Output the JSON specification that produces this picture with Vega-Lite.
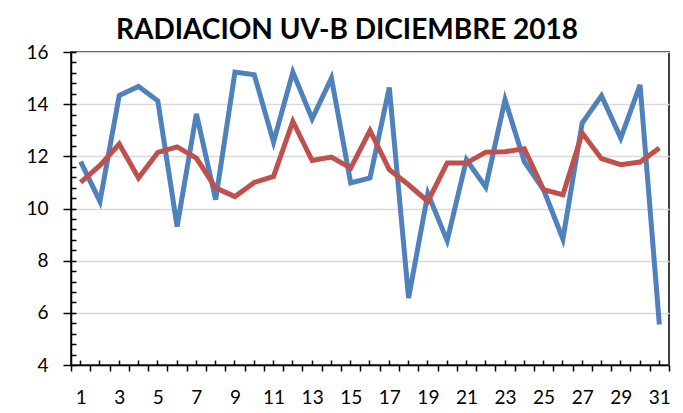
{
  "$schema": "https://vega.github.io/schema/vega-lite/v6.json",
  "autosize": "none",
  "width": 598,
  "height": 313,
  "padding": {"left": 71, "top": 52, "right": 14, "bottom": 48},
  "background": "white",
  "title": {"text": "RADIACION UV-B DICIEMBRE 2018", "font": "Lato", "fontSize": 28, "fontWeight": "bold", "color": "#000000", "dx": -23, "offset": -2},
  "config": {
    "view": {"stroke": "#000000", "strokeWidth": 1.5},
    "axis": {"labelFont": "Lato", "labelFontSize": 19, "labelColor": "#000000", "domainColor": "#000000", "tickColor": "#000000", "domainWidth": 1.5, "tickWidth": 1.5, "title": null}
  },
  "data": {"values": [
    {"d": 1, "a": 11.8, "b": 11.0},
    {"d": 2, "a": 10.27, "b": 11.65},
    {"d": 3, "a": 14.33, "b": 12.47},
    {"d": 4, "a": 14.68, "b": 11.17},
    {"d": 5, "a": 14.13, "b": 12.15},
    {"d": 6, "a": 9.31, "b": 12.36},
    {"d": 7, "a": 13.63, "b": 11.93},
    {"d": 8, "a": 10.34, "b": 10.79},
    {"d": 9, "a": 15.23, "b": 10.46},
    {"d": 10, "a": 15.13, "b": 11.0},
    {"d": 11, "a": 12.55, "b": 11.23},
    {"d": 12, "a": 15.23, "b": 13.34},
    {"d": 13, "a": 13.44, "b": 11.84},
    {"d": 14, "a": 15.0, "b": 11.97},
    {"d": 15, "a": 10.98, "b": 11.55},
    {"d": 16, "a": 11.17, "b": 12.99},
    {"d": 17, "a": 14.64, "b": 11.49},
    {"d": 18, "a": 6.57, "b": 10.91},
    {"d": 19, "a": 10.57, "b": 10.27},
    {"d": 20, "a": 8.77, "b": 11.74},
    {"d": 21, "a": 11.87, "b": 11.74},
    {"d": 22, "a": 10.82, "b": 12.16},
    {"d": 23, "a": 14.17, "b": 12.18},
    {"d": 24, "a": 11.8, "b": 12.29},
    {"d": 25, "a": 10.72, "b": 10.72},
    {"d": 26, "a": 8.83, "b": 10.53},
    {"d": 27, "a": 13.28, "b": 12.89},
    {"d": 28, "a": 14.32, "b": 11.91},
    {"d": 29, "a": 12.7, "b": 11.68},
    {"d": 30, "a": 14.74, "b": 11.78},
    {"d": 31, "a": 5.55, "b": 12.32}
  ]},
  "resolve": {"axis": {"x": "independent", "y": "independent"}},
  "layer": [
    {
      "mark": {"type": "line", "color": "#4f81bd", "strokeWidth": 5, "strokeJoin": "miter"},
      "encoding": {
        "x": {"field": "d", "type": "ordinal", "scale": {"paddingInner": 0, "paddingOuter": 0},
              "axis": {"orient": "bottom", "labelAngle": 0, "tickBand": "extent", "tickSize": 6, "labelPadding": 17, "grid": false,
                       "labelExpr": "datum.value % 2 == 1 ? datum.label : ''"}},
        "y": {"field": "a", "type": "quantitative", "scale": {"domain": [4, 16], "nice": false},
              "axis": {"orient": "left", "values": [4, 6, 8, 10, 12, 14, 16], "tickSize": 8, "labelPadding": 15, "grid": true, "gridColor": "#d9d9d9", "gridWidth": 1.5}}
      }
    },
    {
      "mark": {"type": "line", "color": "#c0504d", "strokeWidth": 5, "strokeJoin": "miter"},
      "encoding": {
        "x": {"field": "d", "type": "ordinal",
              "axis": {"orient": "bottom", "labels": false, "domain": false, "tickSize": -5, "grid": false}},
        "y": {"field": "b", "type": "quantitative",
              "axis": {"orient": "left", "labels": false, "domain": false, "grid": false, "tickSize": -5,
                       "values": [4, 4.4, 4.8, 5.2, 5.6, 6, 6.4, 6.8, 7.2, 7.6, 8, 8.4, 8.8, 9.2, 9.6, 10, 10.4, 10.8, 11.2, 11.6, 12, 12.4, 12.8, 13.2, 13.6, 14, 14.4, 14.8, 15.2, 15.6, 16]}}
      }
    }
  ]
}
